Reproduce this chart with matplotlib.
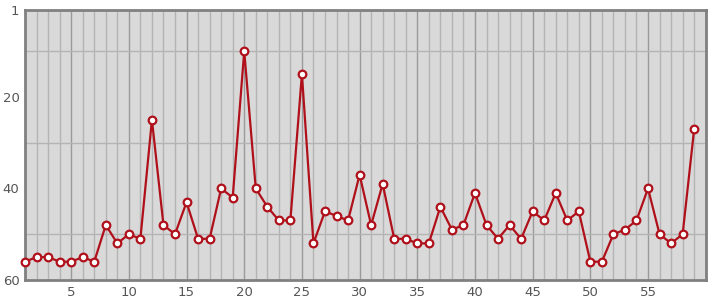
import matplotlib
matplotlib.use("Agg")
import matplotlib.pyplot as plt
from matplotlib.ticker import MultipleLocator, FixedLocator

# rank per round (lower is better, axis inverted)
rounds = list(range(1, 60))
ranks = [56, 55, 55, 56, 56, 55, 56, 48, 52, 50,
         51, 25, 48, 50, 43, 51, 51, 40, 42, 10,
         40, 44, 47, 47, 15, 52, 45, 46, 47, 37,
         48, 39, 51, 51, 52, 52, 44, 49, 48, 41,
         48, 51, 48, 51, 45, 47, 41, 47, 45, 56,
         56, 50, 49, 47, 40, 50, 52, 50, 27]
x_ticks = [5, 10, 15, 20, 25, 30, 35, 40, 45, 50, 55]
y_ticks = [1, 20, 40, 60]

fig = plt.figure(figsize=(7.15, 3.0), dpi=100)
ax = fig.add_axes([0.035, 0.0667, 0.952, 0.9])
ax.set_facecolor("#d9d9d9")

ax.set_xlim(1, 60)
ax.set_ylim(60, 1)

# grid
ax.xaxis.set_minor_locator(MultipleLocator(1))
ax.yaxis.set_minor_locator(FixedLocator([10, 20, 30, 40, 50]))
ax.set_xticks(x_ticks)
ax.set_yticks(y_ticks)
ax.grid(which="minor", axis="x", color="#b4b4b4", lw=1)
ax.grid(which="major", axis="x", color="#9a9a9a", lw=1)
ax.grid(which="minor", axis="y", color="#b4b4b4", lw=1)
ax.set_axisbelow(True)

ax.plot(rounds, ranks, color="#b0101a", lw=1.6, marker="o", ms=5.5,
        mfc="white", mec="#b0101a", mew=1.6, clip_on=False, zorder=3)

for s in ax.spines.values():
    s.set_color("#808080")
    s.set_linewidth(2)

ax.tick_params(which="both", length=0, labelsize=9.5, labelcolor="#555555", pad=4)

fig.savefig("out.png", dpi=100)
